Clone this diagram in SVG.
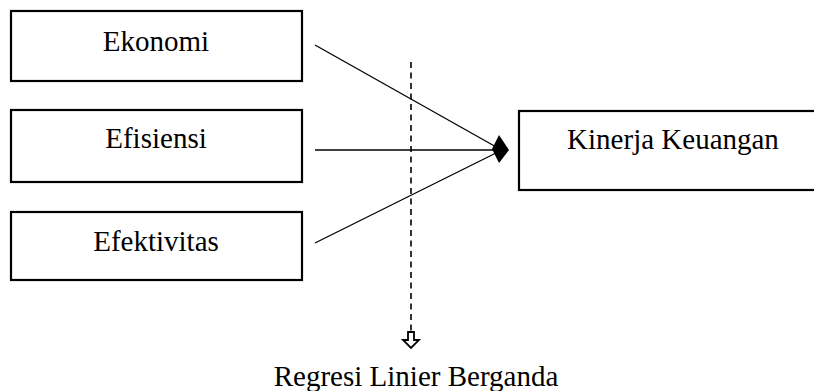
<svg xmlns="http://www.w3.org/2000/svg" width="814" height="391" viewBox="0 0 814 391">
<style>
.box{fill:#fff;stroke:#000;stroke-width:2.2}
.lbl{font-family:"Liberation Serif","Times New Roman",serif;font-size:29px;fill:#000;text-anchor:middle}
.ln{stroke:#000;stroke-width:1.3;fill:none}
</style>
<rect width="814" height="391" fill="#fff"/>
<g id="ekonomi"><rect class="box" x="11" y="11" width="291" height="70"/><text class="lbl" x="156" y="51">Ekonomi</text></g>
<g id="efisiensi"><rect class="box" x="11" y="110" width="291" height="72"/><text class="lbl" x="156" y="148">Efisiensi</text></g>
<g id="efektivitas"><rect class="box" x="11" y="212" width="291" height="68"/><text class="lbl" x="156" y="251">Efektivitas</text></g>
<g id="kinerja"><rect class="box" x="519" y="111" width="320" height="79"/><text class="lbl" x="673" y="149">Kinerja Keuangan</text></g>
<g id="connectors">
<line class="ln" x1="315" y1="45" x2="498" y2="148"/>
<line class="ln" x1="315" y1="150" x2="498" y2="150"/>
<line class="ln" x1="315" y1="243" x2="498" y2="152"/>
<polygon points="492,149 499,135 509,150 499,163" fill="#000"/>
<line x1="411" y1="62" x2="411" y2="332" stroke="#000" stroke-width="1.6" stroke-dasharray="6,4.5"/>
<polygon points="408,332 414,332 414,340 419,340 411,348 403,340 408,340" fill="#fff" stroke="#000" stroke-width="1.8"/>
</g>
<g id="regresi"><text class="lbl" x="416" y="386">Regresi Linier Berganda</text></g>
</svg>
